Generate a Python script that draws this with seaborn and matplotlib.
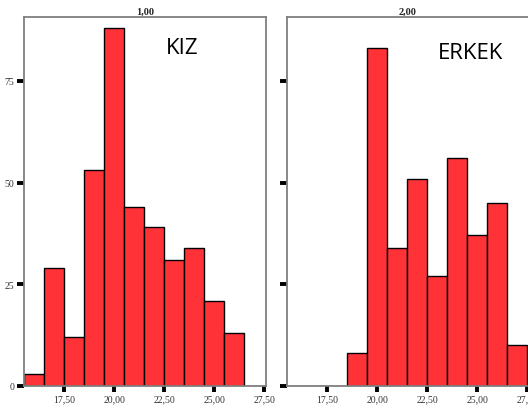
import numpy as np
import pandas as pd
import matplotlib.pyplot as plt
import seaborn as sns
from matplotlib.ticker import FuncFormatter

sns.set_theme(style="white")

# ===========================================================
# Données
# ===========================================================

scores_kiz = [16, 17, 18, 19, 20, 21, 22, 23, 24, 25, 26]
counts_kiz = [3, 29, 12, 53, 88, 44, 39, 31, 34, 21, 13]

scores_erkek = [19, 20, 21, 22, 23, 24, 25, 26, 27]
counts_erkek = [8, 83, 34, 51, 27, 56, 37, 45, 10]

panel_titles = ["1,00", "2,00"]
panel_labels = ["KIZ", "ERKEK"]
x_ticks = [17.5, 20.0, 22.5, 25.0, 27.5]
y_ticks = [0, 25, 50, 75]

kiz = pd.DataFrame({"score": scores_kiz, "n": counts_kiz})
erkek = pd.DataFrame({"score": scores_erkek, "n": counts_erkek})

# ===========================================================
# Figure
# ===========================================================

fig = plt.figure(figsize=(5.28, 4.14), dpi=100)
ax1 = fig.add_axes([24 / 528, 27 / 414, 242 / 528, 369 / 414])
ax2 = fig.add_axes([287 / 528, 27 / 414, 242 / 528, 369 / 414])

bar_red = "#FF3337"
comma_fmt = FuncFormatter(lambda v, p: f"{v:.2f}".replace(".", ","))

for ax, df, title, label, lx, ly in [
    (ax1, kiz, panel_titles[0], panel_labels[0], 0.653, 0.918),
    (ax2, erkek, panel_titles[1], panel_labels[1], 0.757, 0.905),
]:
    sns.histplot(data=df, x="score", weights="n", discrete=True,
                 color=bar_red, alpha=1, edgecolor="black", linewidth=1, ax=ax)
    ax.set_xlim(15.48, 27.58)
    ax.set_ylim(0, 90.7)
    ax.set_xticks(x_ticks)
    ax.set_yticks(y_ticks)
    ax.xaxis.set_major_formatter(comma_fmt)
    ax.set_xlabel("")
    ax.set_ylabel("")
    ax.set_title(title, fontsize=7.5, fontweight="bold", family="Liberation Serif", pad=2)
    ax.text(lx, ly, label, transform=ax.transAxes, ha="center", va="center",
            fontsize=16, family="Open Sans", color="black")
    for s in ax.spines.values():
        s.set_color("#7f7f7f")
        s.set_linewidth(1.3)
    ax.tick_params(axis="both", colors="black", width=2.8, length=5, pad=2,
                   labelsize=7, direction="out", bottom=True, left=True)
    ax.tick_params(axis="x", length=4)
    for t in ax.get_xticklabels() + ax.get_yticklabels():
        t.set_family("Liberation Serif")
        t.set_color("#333333")

ax2.tick_params(axis="y", labelleft=False)

fig.savefig("out.png", dpi=100)
